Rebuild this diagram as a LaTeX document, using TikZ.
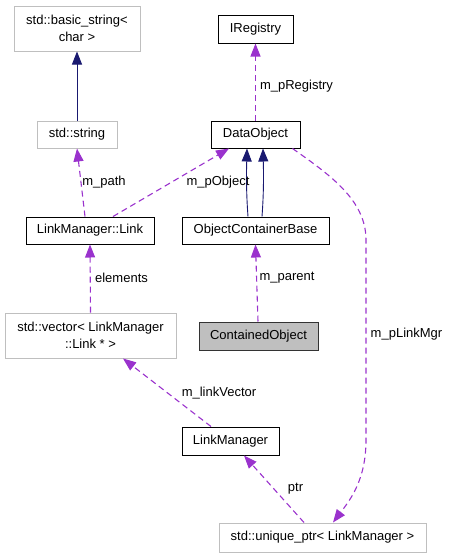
\documentclass[tikz,border=0pt]{standalone}
\usepackage{fontspec}
\setmainfont{Liberation Sans}
\usetikzlibrary{arrows.meta}
\definecolor{dpurple}{HTML}{9A32CD}
\definecolor{dnavy}{HTML}{191970}
\definecolor{dgray}{HTML}{BFBFBF}
\begin{document}
\begin{tikzpicture}[x=1pt,y=-1pt,
  every node/.style={font=\fontsize{13}{16.5}\selectfont},
  cls/.style={draw=black,line width=1pt,fill=white,inner sep=0pt,align=center},
  ext/.style={draw=dgray,line width=1pt,fill=white,inner sep=0pt,align=center},
  cur/.style={draw=black!80,line width=1pt,fill=dgray,inner sep=0pt,align=center},
  inh/.style={draw=dnavy,line width=0.9pt,-{Triangle[length=13pt,width=10pt]}},
  dep/.style={draw=dpurple,line width=1.1pt,dash pattern=on 6pt off 4pt,-{Triangle[length=13pt,width=10pt]}},
  lbl/.style={inner sep=0pt}]
\useasboundingbox (0,0) rectangle (448,557);
\node[ext,minimum width=126pt,minimum height=45pt] (bs) at (77,28.5) {std::basic\_string<\\char >};
\node[cls,minimum width=75pt,minimum height=28pt] (ireg) at (255.5,29) {IRegistry};
\node[ext,minimum width=80pt,minimum height=27pt] (str) at (77,134.5) {std::string};
\node[cls,minimum width=89pt,minimum height=27pt] (dob) at (255.5,134.5) {DataObject};
\node[cls,minimum width=128pt,minimum height=27pt] (link) at (90,230.5) {LinkManager::Link};
\node[cls,minimum width=147pt,minimum height=27pt] (ocb) at (255.5,230.5) {ObjectContainerBase};
\node[ext,minimum width=171pt,minimum height=45pt] (vec) at (90.5,335.5) {std::vector< LinkManager\\::Link * >};
\node[cur,minimum width=119pt,minimum height=28pt] (cont) at (258.5,336) {ContainedObject};
\node[cls,minimum width=97pt,minimum height=28pt] (lm) at (230.5,441) {LinkManager};
\node[ext,minimum width=207pt,minimum height=29pt] (uptr) at (322.5,537.5) {std::unique\_ptr< LinkManager >};

\draw[inh] (str.north) -- (bs.south);
\draw[dep] ([xshift=-5pt]link.north) -- (str.south);
\draw[dep] ([xshift=23pt]link.north) -- ([xshift=-26.5pt]dob.south);
\draw[inh] ([xshift=-7.5pt]ocb.north) .. controls (246,190) and (246.5,170) .. ([xshift=-8.5pt]dob.south);
\draw[inh] ([xshift=6.5pt]ocb.north) .. controls (264,190) and (263.5,170) .. ([xshift=7.5pt]dob.south);
\draw[dep] (dob.north) -- (ireg.south);
\draw[dep] ([xshift=-0.5pt]cont.north) -- (ocb.south);
\draw[dep] (vec.north) -- (link.south);
\draw[dep] ([xshift=-19.5pt]lm.north) -- ([xshift=32.5pt]vec.south);
\draw[dep] ([xshift=-18.5pt]uptr.north) -- ([xshift=13.5pt]lm.south);
\coordinate (c1) at (366,240);
\coordinate (c2) at (366,440);
\draw[dep] ([xshift=-8pt]dob.south east) .. controls (330,175) and (366,200) .. (c1) -- (c2) .. controls (366,480) and (350,500) .. ([xshift=10.5pt]uptr.north);

\node[lbl] (l1) at (104,182) {m\_path};
\node[lbl] (l2) at (218,182) {m\_pObject};
\node[lbl] (l3) at (296.5,86) {m\_pRegistry};
\node[lbl] (l4) at (121.5,278) {elements};
\node[lbl] (l5) at (287,278) {m\_parent};
\node[lbl] (l6) at (406.5,334) {m\_pLinkMgr};
\node[lbl] (l7) at (219,393) {m\_linkVector};
\node[lbl] (l8) at (295.5,489) {ptr};
\end{tikzpicture}
\end{document}
